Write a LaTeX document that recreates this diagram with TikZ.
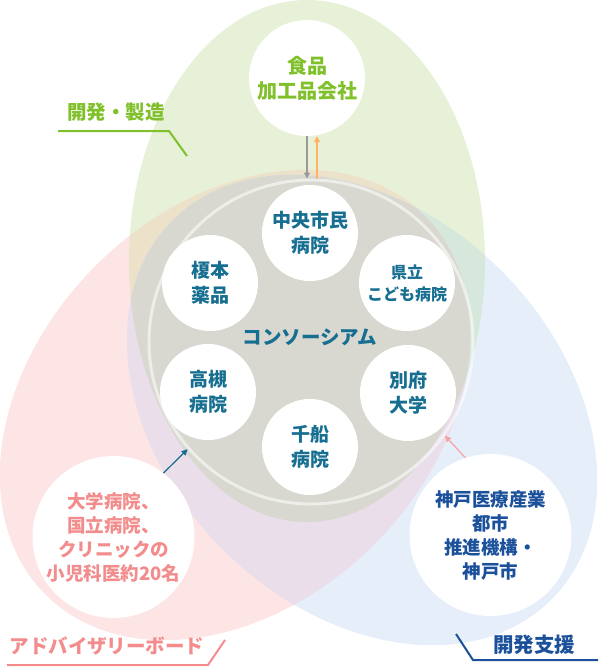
\documentclass[tikz,border=0pt]{standalone}
\usepackage{fontspec}
\setmainfont{Noto Sans CJK JP}
\usetikzlibrary{arrows.meta}
\definecolor{leaf}{RGB}{230,241,215}
\definecolor{rose}{RGB}{252,229,228}
\definecolor{sky}{RGB}{230,238,250}
\definecolor{leafrose}{RGB}{236,226,201}
\definecolor{leafsky}{RGB}{214,231,219}
\definecolor{rosesky}{RGB}{233,222,234}
\definecolor{core}{RGB}{216,216,208}
\definecolor{ink}{RGB}{22,110,145}
\definecolor{devgreen}{RGB}{128,192,42}
\definecolor{advpink}{RGB}{243,140,140}
\definecolor{supblue}{RGB}{27,80,155}
\newcommand{\devarea}{(307,261) ellipse (178 and 261)}
\newcommand{\advarea}{[rotate around={45:(235,405)}] (235,405) ellipse (268 and 197)}
\newcommand{\suparea}{[rotate around={-45:(362,410)}] (362,410) ellipse (268 and 197)}

\begin{document}
\begin{tikzpicture}[x=1pt, y=-1pt,
    member/.style={circle, fill=white, minimum size=96pt, inner sep=0pt, align=center,
      text=ink, font=\bfseries\fontsize{19}{25}\selectfont},
    partner/.style={circle, fill=white, minimum size=162pt, inner sep=0pt, align=center,
      font=\bfseries\fontsize{18.5}{24}\selectfont},
    arrowlink/.style={line width=1.4pt, -{Triangle[length=6pt,width=6pt]}},
    tag/.style={font=\bfseries\fontsize{19.5}{20}\selectfont},
    leader/.style={line width=2pt}]
  \useasboundingbox (0,0) rectangle (598,667);
  \clip (0,0) rectangle (598,667);
  % Three fields
  \fill[leaf] \devarea;
  \fill[rose] \advarea;
  \fill[sky] \suparea;
  % Overlaps
  \begin{scope}
    \clip \devarea;
    \fill[leafrose] \advarea;
    \fill[leafsky] \suparea;
  \end{scope}
  \begin{scope}
    \clip \advarea;
    \fill[rosesky] \suparea;
  \end{scope}
  \begin{scope}
    \clip \devarea;
    \clip \advarea;
    \fill[core] \suparea;
  \end{scope}
  % Consortium ring
  \node[circle, draw=white, draw opacity=0.55, line width=3pt, minimum size=324pt, inner sep=0pt] (ring) at (311,342) {};
  \node[text=ink, font=\bfseries\fontsize{19.5}{20}\selectfont] (consortium) at (310,337) {コンソーシアム};
  % Members
  \node[member] (chuo) at (310,233) {中央市民\\病院};
  \node[member] (enomoto) at (210,283) {榎本\\薬品};
  \node[member, font=\bfseries\fontsize{16}{22}\selectfont] (kenritsu) at (407,283) {県立\\こども病院};
  \node[member] (takatsuki) at (208,392) {高槻\\病院};
  \node[member] (beppu) at (408,393) {別府\\大学};
  \node[member] (senbune) at (310,447) {千船\\病院};
  % Partners
  \node[circle, fill=white, minimum size=116pt, inner sep=0pt, align=center, text=devgreen,
    font=\bfseries\fontsize{20}{25}\selectfont] (food) at (307,78) {食品\\加工品会社};
  \node[partner, text=advpink] (adv) at (113.5,537) {大学病院、\\国立病院、\\クリニックの\\小児科医約20名};
  \node[partner, text=supblue] (kobe) at (490.5,535) {神戸医療産業\\都市\\推進機構・\\神戸市};
  % Arrows
  \coordinate (up) at ([xshift=10pt]food.south);
  \draw[arrowlink, black!40] (food.south) -- (food.south |- ring.north);
  \draw[arrowlink, orange!60] (up |- ring.north) -- (up);
  \draw[arrowlink, ink, line width=1.2pt] (adv.52) -- (ring.221);
  \draw[arrowlink, advpink!80, line width=1.2pt] (kobe.108) -- (ring.-35);
  % Field labels
  \node[tag, text=devgreen] (devlabel) at (116,112) {開発・製造};
  \coordinate (devtip) at (187,156);
  \draw[leader, devgreen] (58,131) -- (169,131) -- (devtip);
  \node[tag, text=advpink] (advlabel) at (107,646) {アドバイザリーボード};
  \coordinate (advtip) at (225,640);
  \draw[leader, advpink] (7,665) -- (208,665) -- (advtip);
  \node[tag, text=supblue, font=\bfseries\fontsize{20.5}{21}\selectfont] (suplabel) at (534,645) {開発支援};
  \coordinate (suptip) at (456,634);
  \draw[leader, supblue] (suptip) -- (473,660) -- (598,660);
\end{tikzpicture}
\end{document}
